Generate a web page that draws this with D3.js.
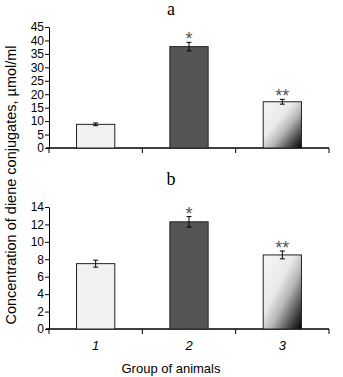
<!DOCTYPE html>
<html><head><meta charset="utf-8">
<script src="https://cdn.jsdelivr.net/npm/d3@7"></script>
<style>body{margin:0;background:#fff}svg{display:block}</style>
</head><body>
<script>
const groups = ["1", "2", "3"];
const valuesA = [8.8, 37.7, 17.2];
const errorsA = [0.5, 1.6, 0.9];
const ticksA = [0, 5, 10, 15, 20, 25, 30, 35, 40, 45];
const valuesB = [7.5, 12.3, 8.5];
const errorsB = [0.4, 0.6, 0.45];
const ticksB = [0, 2, 4, 6, 8, 10, 12, 14];
const marks = ["", "*", "**"];
const panelTitles = ["a", "b"];
const yLabel = "Concentration of diene conjugates, µmol/ml";
const xLabel = "Group of animals";

const W = 343, H = 377;
const svg = d3.select("body").append("svg").attr("width", W).attr("height", H);
const defs = svg.append("defs");
const g3 = defs.append("linearGradient").attr("id", "grad3")
  .attr("x1", 0).attr("y1", 0).attr("x2", 1).attr("y2", 1);
[[0, "#f6f6f6"], [0.4, "#eaeaea"], [0.6, "#b5b5b5"], [0.8, "#555"], [1, "#000"]]
  .forEach(([o, c]) => g3.append("stop").attr("offset", o).attr("stop-color", c));
const fills = ["#f1f1f1", "#555555", "url(#grad3)"];

const sans = "Liberation Sans, Arial, Helvetica, sans-serif";
const x = d3.scaleBand().domain(groups).range([49, 329]).paddingInner(0.59).paddingOuter(0.295);
const xb = d3.scaleBand().domain(groups).range([49, 329]);

function panel(vals, errs, ticks, top, bottom, title, titleY, showLabels) {
  const y = d3.scaleLinear().domain([0, ticks[ticks.length - 1]]).range([bottom, top]);
  const g = svg.append("g");
  g.append("text").attr("x", 171).attr("y", titleY).attr("text-anchor", "middle")
    .attr("font-family", "Liberation Serif, Times New Roman, serif").attr("font-size", 18).text(title);
  // y axis
  const ya = g.append("g").attr("transform", "translate(49,0)")
    .call(d3.axisLeft(y).tickValues(ticks).tickSize(4).tickPadding(1).tickSizeOuter(0));
  ya.select(".domain").attr("stroke", "#000");
  ya.selectAll("text").attr("font-family", sans).attr("font-size", 12).attr("fill", "#000");
  // x axis
  const xa = g.append("g").attr("transform", `translate(0,${bottom})`);
  xa.append("line").attr("x1", 46).attr("x2", 329).attr("stroke", "#000").attr("stroke-width", 1.3);
  const bounds = [xb(groups[0])].concat(groups.map(d => xb(d) + xb.bandwidth()));
  xa.selectAll("line.t").data(bounds).join("line").attr("class", "t")
    .attr("x1", d => d).attr("x2", d => d).attr("y1", 0).attr("y2", 5).attr("stroke", "#000");
  if (showLabels) {
    xa.selectAll("text.l").data(groups).join("text").attr("class", "l")
      .attr("x", d => xb(d) + xb.bandwidth() / 2).attr("y", 21).attr("text-anchor", "middle")
      .attr("font-family", sans).attr("font-style", "italic").attr("font-size", 13).text(d => d);
  }
  // bars
  g.selectAll("rect.bar").data(vals).join("rect").attr("class", "bar")
    .attr("x", (d, i) => x(groups[i])).attr("width", x.bandwidth())
    .attr("y", d => y(d)).attr("height", d => bottom - y(d))
    .attr("fill", (d, i) => fills[i]).attr("stroke", "#222").attr("stroke-width", 1);
  // error bars
  vals.forEach((v, i) => {
    const cx = x(groups[i]) + x.bandwidth() / 2;
    const y1 = y(v + errs[i]), y2 = y(v - errs[i]);
    g.append("line").attr("x1", cx).attr("x2", cx).attr("y1", y1).attr("y2", y2).attr("stroke", "#000");
    [y1, y2].forEach(yy => g.append("line").attr("x1", cx - 2.5).attr("x2", cx + 2.5)
      .attr("y1", yy).attr("y2", yy).attr("stroke", "#000"));
    if (marks[i]) {
      g.append("text").attr("x", cx).attr("y", y1 + 3).attr("text-anchor", "middle")
        .attr("font-family", sans).attr("font-size", 18).attr("fill", "#555").text(marks[i]);
    }
  });
}

panel(valuesA, errorsA, ticksA, 27, 148, panelTitles[0], 15, false);
panel(valuesB, errorsB, ticksB, 207, 329, panelTitles[1], 185, true);

svg.append("text").attr("transform", "translate(16,185) rotate(-90)").attr("text-anchor", "middle")
  .attr("font-family", sans).attr("font-size", 14.5).text(yLabel);
svg.append("text").attr("x", 171).attr("y", 373).attr("text-anchor", "middle")
  .attr("font-family", sans).attr("font-size", 13).text(xLabel);
</script>
</body></html>
